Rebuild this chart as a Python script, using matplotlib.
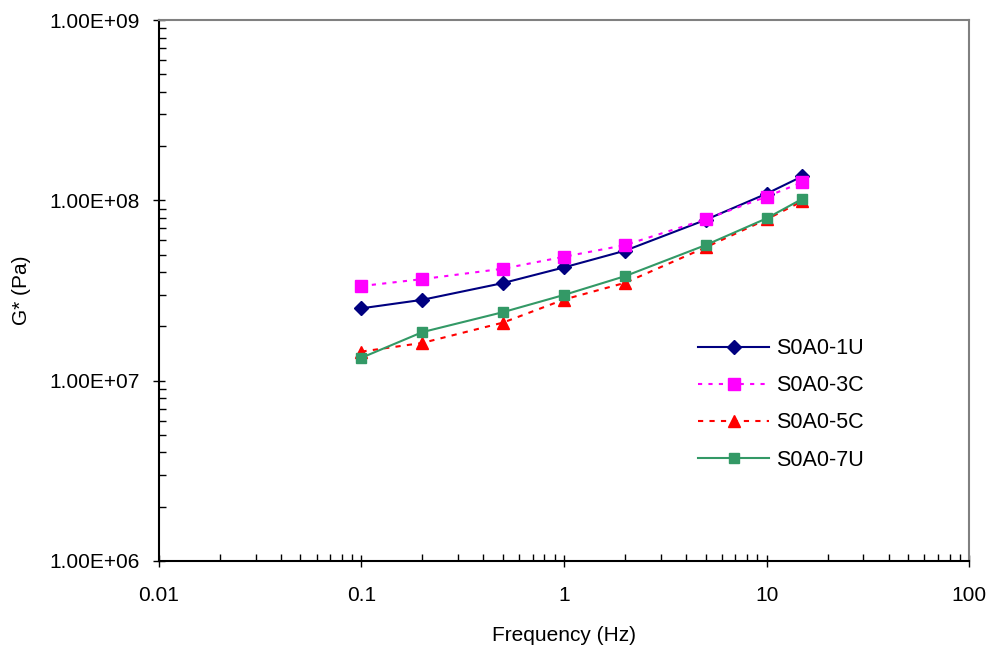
import numpy as np
import matplotlib.pyplot as plt
from matplotlib.ticker import FuncFormatter, LogLocator, NullFormatter

plt.rcParams['font.family'] = ['Liberation Sans', 'DejaVu Sans']

################################################################################
# data
freq = [0.1, 0.2, 0.5, 1, 2, 5, 10, 15]

g_1u = [2.52e7, 2.81e7, 3.48e7, 4.25e7, 5.26e7, 7.8e7, 1.09e8, 1.36e8]
g_3c = [3.35e7, 3.66e7, 4.18e7, 4.87e7, 5.65e7, 7.85e7, 1.05e8, 1.26e8]
g_5c = [1.45e7, 1.62e7, 2.10e7, 2.82e7, 3.49e7, 5.49e7, 7.85e7, 9.9e7]
g_7u = [1.34e7, 1.86e7, 2.40e7, 2.99e7, 3.80e7, 5.65e7, 7.95e7, 1.02e8]

x_ticks = [0.01, 0.1, 1, 10, 100]
x_tick_labels = ['0.01', '0.1', '1', '10', '100']
################################################################################

fig = plt.figure(figsize=(9.93, 6.5), dpi=100)
ax = fig.add_axes([0.160, 0.137, 0.816, 0.832])

ax.plot(freq, g_1u, color='#000080', linestyle='-', linewidth=1.5,
        marker='D', markersize=7, label='S0A0-1U')
ax.plot(freq, g_3c, color='#FF00FF', linestyle=(0, (2, 3)), linewidth=1.5,
        marker='s', markersize=9, label='S0A0-3C')
ax.plot(freq, g_5c, color='#FF0000', linestyle=(0, (2.5, 3)), linewidth=1.5,
        marker='^', markersize=9, label='S0A0-5C')
ax.plot(freq, g_7u, color='#339966', linestyle='-', linewidth=1.5,
        marker='s', markersize=7, label='S0A0-7U')

ax.set_xscale('log')
ax.set_yscale('log')
ax.set_xlim(0.01, 100)
ax.set_ylim(1e6, 1e9)

ax.set_xticks(x_ticks)
ax.set_xticklabels(x_tick_labels)
ax.xaxis.set_minor_locator(LogLocator(base=10, subs=np.arange(2, 10)))
ax.xaxis.set_minor_formatter(NullFormatter())

ax.yaxis.set_major_locator(LogLocator(base=10, numticks=10))
ax.yaxis.set_minor_locator(LogLocator(base=10, subs=np.arange(2, 10), numticks=10))
ax.yaxis.set_minor_formatter(NullFormatter())


def sci_fmt(v, pos):
    e = int(round(np.log10(v)))
    return '1.00E+%02d' % e


ax.yaxis.set_major_formatter(FuncFormatter(sci_fmt))

ax.tick_params(which='major', direction='inout', length=8, width=1,
               labelsize=15, pad=10)
ax.tick_params(which='minor', direction='in', length=5, width=1)
ax.tick_params(axis='x', which='major', pad=14)

for side in ['left', 'bottom']:
    ax.spines[side].set_color('black')
    ax.spines[side].set_linewidth(1.5)
for side in ['top', 'right']:
    ax.spines[side].set_color('#808080')
    ax.spines[side].set_linewidth(1.5)

ax.set_xlabel('Frequency (Hz)', fontsize=15, labelpad=15)
ax.set_ylabel('G* (Pa)', fontsize=15, labelpad=13)

ax.legend(loc='upper left', bbox_to_anchor=(0.655, 0.428), frameon=False,
          fontsize=15.5, handlelength=3.3, handletextpad=0.3, labelspacing=0.75,
          borderaxespad=0)

fig.savefig('out.png', dpi=100)
